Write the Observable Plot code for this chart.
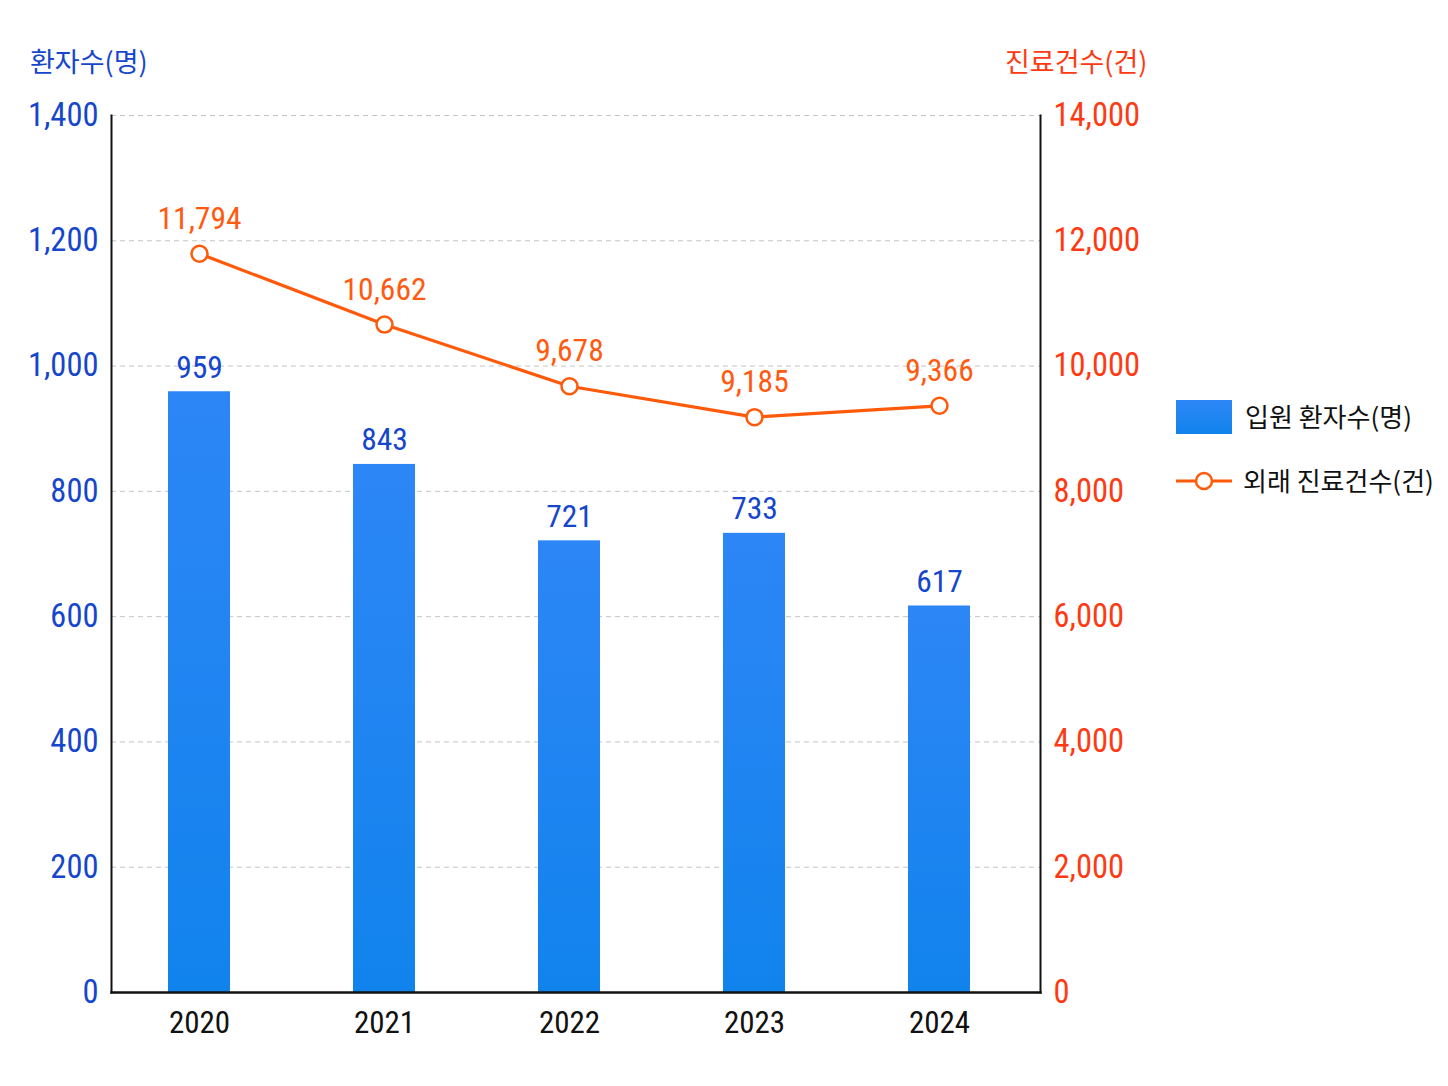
<!DOCTYPE html>
<html><head><meta charset="utf-8">
<script src="https://cdn.jsdelivr.net/npm/d3@7"></script>
<script src="https://cdn.jsdelivr.net/npm/@observablehq/plot@0.6"></script>
<style>
body{margin:0;background:#fff;}
#wrap{position:relative;width:1448px;height:1086px;overflow:hidden;}
#chart{position:absolute;left:0;top:0;}
.ttl{position:absolute;font-family:"Noto Sans CJK KR","Noto Sans",sans-serif;font-size:27px;line-height:1;white-space:nowrap;}
#lt{left:30px;top:47px;color:#1546cc;}
#rt{left:1005px;top:47px;color:#ff3a12;}
.leg{position:absolute;font-family:"Noto Sans CJK KR","Noto Sans",sans-serif;font-size:26px;color:#111;white-space:nowrap;line-height:1;}
</style></head><body>
<div id="wrap">
  <div id="chart"></div>
  <div class="ttl" id="lt">환자수(명)</div>
  <div class="ttl" id="rt">진료건수(건)</div>
  <svg id="legsvg" style="position:absolute;left:1170px;top:395px" width="70" height="110">
    <defs><linearGradient id="lg" x1="0" y1="0" x2="0" y2="1"><stop offset="0" stop-color="#2d86f6"/><stop offset="1" stop-color="#1183ec"/></linearGradient></defs>
    <rect x="6" y="5" width="56" height="34" fill="url(#lg)"/>
    <line x1="6" x2="62" y1="86" y2="86" stroke="#ff5a0a" stroke-width="3"/>
    <circle cx="34" cy="86" r="8" fill="#fff" stroke="#ff5a0a" stroke-width="2.5"/>
  </svg>
  <div class="leg" style="left:1245px;top:403px">입원 환자수(명)</div>
  <div class="leg" style="left:1243px;top:467px">외래 진료건수(건)</div>
</div>
<script>
const years = ["2020", "2021", "2022", "2023", "2024"];
const inpatients = [959, 843, 721, 733, 617];
const outpatients = [11794, 10662, 9678, 9185, 9366];
const leftTicks = [0, 200, 400, 600, 800, 1000, 1200, 1400];
const ratio = 10; // right axis = left axis × 10

const data = years.map((y, i) => ({year: y, inp: inpatients[i], out: outpatients[i], outScaled: outpatients[i] / ratio}));
const fmt = d3.format(",");
const FONT = '"Roboto Condensed","Liberation Sans Narrow","DejaVu Sans Condensed",Roboto,sans-serif';

const defs = () => {
  const g = d3.create("svg:defs");
  const lg = g.append("linearGradient").attr("id", "barGrad").attr("x1", 0).attr("y1", 0).attr("x2", 0).attr("y2", 1);
  lg.append("stop").attr("offset", 0).attr("stop-color", "#2d86f6");
  lg.append("stop").attr("offset", 1).attr("stop-color", "#1183ec");
  return g.node();
};

const chart = Plot.plot({
  width: 1448,
  height: 1086,
  marginLeft: 111,
  marginRight: 408,
  marginTop: 115,
  marginBottom: 94,
  style: {fontFamily: FONT, background: "transparent"},
  x: {domain: years, paddingInner: 0.665, paddingOuter: 0.34, align: 0.45, axis: null},
  y: {domain: [0, 1400], axis: null},
  marks: [
    defs,
    Plot.gridY(leftTicks, {stroke: "#c4c4c4", strokeOpacity: 1, strokeDasharray: "5,4", strokeWidth: 1}),
    Plot.barY(data, {x: "year", y: "inp", fill: "url(#barGrad)"}),
    Plot.frame({anchor: "left", stroke: "#111", strokeWidth: 2}),
    Plot.frame({anchor: "right", stroke: "#111", strokeWidth: 2}),
    Plot.frame({anchor: "bottom", stroke: "#111", strokeWidth: 2.5}),
    Plot.axisY(leftTicks, {anchor: "left", tickSize: 0, tickPadding: 13, fontSize: 32.5, fill: "#1546cc", label: null, tickFormat: fmt}),
    Plot.axisY(leftTicks, {anchor: "right", tickSize: 0, tickPadding: 13, fontSize: 32.5, fill: "#ff3a12", label: null, tickFormat: d => fmt(d * ratio)}),
    Plot.axisX({anchor: "bottom", tickSize: 0, tickPadding: 18, fontSize: 31, fill: "#111", label: null}),
    Plot.text(data, {x: "year", y: "inp", text: d => fmt(d.inp), lineAnchor: "bottom", dy: -14, fontSize: 31.5, fill: "#1546cc"}),
    Plot.line(data, {x: "year", y: "outScaled", stroke: "#ff5a0a", strokeWidth: 3.2}),
    Plot.dot(data, {x: "year", y: "outScaled", r: 8, fill: "#fff", stroke: "#ff5a0a", strokeWidth: 2.5}),
    Plot.text(data, {x: "year", y: "outScaled", text: d => fmt(d.out), lineAnchor: "bottom", dy: -25, fontSize: 31.5, fill: "#ff5a10"})
  ]
});
document.getElementById("chart").appendChild(chart);
</script>
</body></html>
